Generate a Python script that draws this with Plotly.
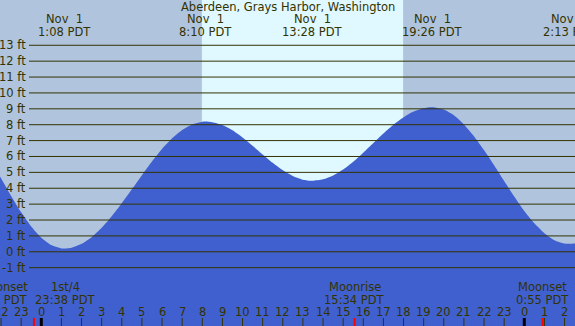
import plotly.graph_objects as go

# ---------------- data ----------------
title_text = "Aberdeen, Grays Harbor, Washington"

# tide curve, hours since midnight Nov 1 (PDT) and height in ft
tide_hours = [-2.5, -2.0, -1.5, -1.0, -0.5, 0.0, 0.5, 1.0, 1.133, 1.5, 2.0, 2.5, 3.0, 3.5,
              4.0, 4.5, 5.0, 5.5, 6.0, 6.5, 7.0, 7.5, 8.0, 8.167, 8.5, 9.0, 9.5, 10.0,
              10.5, 11.0, 11.5, 12.0, 12.5, 13.0, 13.467, 14.0, 14.5, 15.0, 15.5, 16.0,
              16.5, 17.0, 17.5, 18.0, 18.5, 19.0, 19.433, 20.0, 20.5, 21.0, 21.5, 22.0,
              22.5, 23.0, 23.5, 24.0, 24.5, 25.0, 25.5, 26.0, 26.217, 26.5, 27.0]
tide_ft = [5.74, 4.63, 3.52, 2.49, 1.60, 0.89, 0.42, 0.21, 0.20, 0.25, 0.50, 0.92, 1.51, 2.24,
           3.06, 3.93, 4.82, 5.68, 6.47, 7.14, 7.67, 8.02, 8.19, 8.20, 8.16, 7.98, 7.65, 7.20,
           6.68, 6.13, 5.60, 5.13, 4.77, 4.54, 4.47, 4.56, 4.80, 5.18, 5.67, 6.24,
           6.85, 7.45, 8.00, 8.47, 8.83, 9.04, 9.10, 8.95, 8.59, 8.02, 7.28, 6.40,
           5.44, 4.45, 3.48, 2.57, 1.79, 1.17, 0.73, 0.52, 0.50, 0.52, 0.60]

# high / low tide events (top labels)
event_hours = [1.133, 8.167, 13.467, 19.433, 26.217]
event_dates = ["Nov\u00a0\u00a01", "Nov\u00a0\u00a01", "Nov\u00a0\u00a01", "Nov\u00a0\u00a01", "Nov\u00a0\u00a02"]
event_times = ["1:08 PDT", "8:10 PDT", "13:28 PDT", "19:26 PDT", "2:13 PDT"]

# daylight
sunrise_hour = 7.98
sunset_hour = 17.98

# y grid
ft_levels = [-1, 0, 1, 2, 3, 4, 5, 6, 7, 8, 9, 10, 11, 12, 13]

# hour ticks
tick_hours = list(range(-2, 27))
tick_labels = [str(h % 24) for h in tick_hours]
midnight_hours = [0, 24]

# moon events
moon_hours = [-0.367, 15.567, 24.917]
moon_names = ["1st/4", "Moonrise", "Moonset"]
moon_times = ["23:38 PDT", "15:34 PDT", "0:55 PDT"]
moon_label_hours = [1.20, 15.567, 24.917]
left_moon_name = "Moonset"
left_moon_time = "21:44 PDT"

# ---------------- styling ----------------
W, H = 575, 326
NIGHT = "#b0c4de"
DAY = "#e0f8ff"
WATER = "#4060d0"
INK = "#333300"
FONT = dict(family="DejaVu Sans", size=11.5, color=INK)

X0, X1 = -2.052, 26.52
Y0, Y1 = -4.671, 15.85


def py(px):
    """pixel row -> paper y"""
    return 1 - px / H


def xfrac(h):
    """hour -> paper x (same linear mapping as the x axis range)"""
    return (h - X0) / (X1 - X0)


fig = go.Figure()
fig.add_trace(go.Scatter(x=[-3, 28], y=[-8, -8], mode="lines",
                         line=dict(width=0, color=WATER), hoverinfo="skip", showlegend=False))
fig.add_trace(go.Scatter(x=tide_hours, y=tide_ft, mode="lines", fill="tonexty",
                         fillcolor=WATER, line=dict(width=0, color=WATER, shape="spline", smoothing=0.6),
                         hoverinfo="skip", showlegend=False))

shapes = []
# daylight band
shapes.append(dict(type="rect", xref="x", yref="paper", x0=sunrise_hour, x1=sunset_hour,
                   y0=0, y1=1, fillcolor=DAY, line=dict(width=0), layer="below"))
# grid lines
for v in ft_levels:
    shapes.append(dict(type="line", xref="paper", yref="y", x0=29 / W, x1=1, y0=v, y1=v,
                       line=dict(color=INK, width=1), layer="above"))
# hour ticks
for h in tick_hours:
    if h in midnight_hours:
        shapes.append(dict(type="line", xref="x", yref="paper", x0=h, x1=h, y0=0, y1=py(318),
                           line=dict(color="#000000", width=3), layer="above"))
    else:
        shapes.append(dict(type="line", xref="x", yref="paper", x0=h, x1=h, y0=0, y1=py(318),
                           line=dict(color=INK, width=1), layer="above"))
for h in moon_hours:
    shapes.append(dict(type="line", xref="x", yref="paper", x0=h, x1=h, y0=0, y1=py(318),
                       line=dict(color="#ff0000", width=2), layer="above"))

ann = []
ann.append(dict(text=title_text, xref="paper", yref="paper", x=0.5, y=py(7.3),
                xanchor="center", yanchor="middle", showarrow=False, font=FONT))
n_ev = len(event_hours)
for i, (h, d, t) in enumerate(zip(event_hours, event_dates, event_times)):
    if i < n_ev - 1:
        ann.append(dict(text=d, xref="x", yref="paper", x=h, y=py(19.3), xanchor="center",
                        yanchor="middle", showarrow=False, font=FONT))
        ann.append(dict(text=t, xref="x", yref="paper", x=h, y=py(31.6), xanchor="center",
                        yanchor="middle", showarrow=False, font=FONT))
    else:
        # last label runs off the right edge (left edge = centre - half text width)
        ann.append(dict(text=d, xref="paper", yref="paper", x=xfrac(h) - 19.5 / W, y=py(19.3),
                        xanchor="left", yanchor="middle", showarrow=False, font=FONT))
        ann.append(dict(text=t, xref="paper", yref="paper", x=xfrac(h) - 27.5 / W, y=py(31.6),
                        xanchor="left", yanchor="middle", showarrow=False, font=FONT))
for v in ft_levels:
    ann.append(dict(text=f"{v} ft", xref="paper", yref="y", x=28 / W, y=v, xanchor="right",
                    yanchor="middle", showarrow=False, font=FONT))
for h, lab in zip(tick_hours, tick_labels):
    ann.append(dict(text=lab, xref="x", yref="paper", x=h, y=py(311.7), xanchor="center",
                    yanchor="middle", showarrow=False, font=FONT))
for h, n, t in zip(moon_label_hours, moon_names, moon_times):
    ann.append(dict(text=n, xref="x", yref="paper", x=h, y=py(287.3), xanchor="center",
                    yanchor="middle", showarrow=False, font=FONT))
    ann.append(dict(text=t, xref="x", yref="paper", x=h, y=py(299.8), xanchor="center",
                    yanchor="middle", showarrow=False, font=FONT))
ann.append(dict(text=left_moon_name, xref="paper", yref="paper", x=30 / W, y=py(287.3),
                xanchor="right", yanchor="middle", showarrow=False, font=FONT))
ann.append(dict(text=left_moon_time, xref="paper", yref="paper", x=30 / W, y=py(299.8),
                xanchor="right", yanchor="middle", showarrow=False, font=FONT))

fig.update_layout(
    width=W, height=H, margin=dict(l=0, r=0, t=0, b=0, pad=0),
    paper_bgcolor=NIGHT, plot_bgcolor=NIGHT,
    xaxis=dict(range=[X0, X1], visible=False, fixedrange=True),
    yaxis=dict(range=[Y0, Y1], visible=False, fixedrange=True),
    shapes=shapes, annotations=ann, showlegend=False,
)
fig.write_html("out.html", config={"displayModeBar": False},
               post_script="document.body.style.margin='0px';document.body.style.overflow='hidden';")
